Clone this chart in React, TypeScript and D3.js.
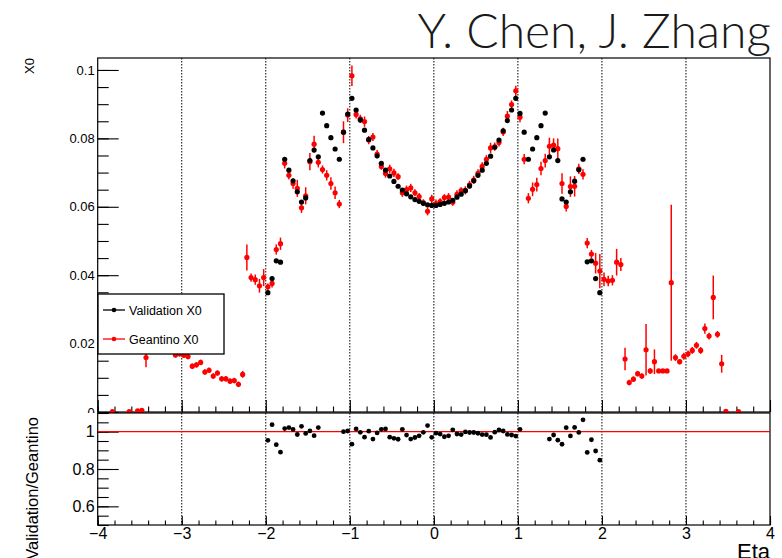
import React, { useEffect, useRef } from "react";
import * as d3 from "d3";

// eta bin centres, 0.05 wide, from -4 to 4
const etaBins: number[] = d3.range(160).map((i) => -3.975 + 0.05 * i);

const geantinoX0: (number | null)[] = [
  null, null, null, 0.0001, null, null, null, 0.0001, null, 0.0003,
  0.0005, 0.0159, null, null, null, null, null, null, 0.0167, 0.0170,
  0.0166, 0.0162, 0.0134, 0.0138, 0.0145, 0.0117, 0.0122, 0.0105, 0.0114, 0.0097,
  0.0097, 0.0090, 0.0092, 0.0081, 0.0110, 0.0452, 0.0393, 0.0387, 0.0369, 0.0393,
  0.0366, 0.0376, 0.0475, 0.0492, 0.0727, 0.0692, 0.0668, 0.0654, 0.0597, 0.0632,
  0.0732, 0.0783, 0.0730, 0.0709, 0.0692, 0.0668, 0.0641, 0.0608, 0.0818, 0.0868,
  0.0983, 0.0870, 0.0857, 0.0849, 0.0795, 0.0804, 0.0754, 0.0718, 0.0697, 0.0711,
  0.0699, 0.0688, 0.0641, 0.0650, 0.0655, 0.0641, 0.0630, 0.0612, 0.0587, 0.0623,
  0.0609, 0.0615, 0.0627, 0.0628, 0.0613, 0.0636, 0.0647, 0.0648, 0.0664, 0.0679,
  0.0698, 0.0718, 0.0739, 0.0772, 0.0776, 0.0788, 0.0819, 0.0865, 0.0899, 0.0939,
  0.0862, 0.0739, 0.0625, 0.0651, 0.0665, 0.0712, 0.0735, 0.0777, 0.0780, 0.0770,
  0.0668, 0.0601, 0.0659, 0.0660, 0.0711, 0.0695, 0.0494, 0.0462, 0.0435, 0.0412,
  0.0388, 0.0383, 0.0385, 0.0438, 0.0431, 0.0155, 0.0086, 0.0096, 0.0112, 0.0105,
  0.0182, 0.0120, 0.0147, 0.0120, 0.0120, 0.0120, 0.0378, 0.0159, 0.0147, 0.0163,
  0.0170, 0.0180, 0.0195, 0.0180, 0.0244, 0.0222, 0.0335, 0.0227, 0.0141, 0.0002,
  null, null, 0.0001, null, null, null, null, null, null, null,
];

const geantinoErr: number[] = [
  0, 0, 0, 0.0003, 0, 0, 0, 0.0003, 0, 0.0003,
  0.0003, 0.0028, 0, 0, 0, 0, 0, 0, 0.0008, 0.0008,
  0.0008, 0.0008, 0.0008, 0.0008, 0.0008, 0.0008, 0.0008, 0.0008, 0.0008, 0.0008,
  0.0008, 0.0008, 0.0008, 0.0008, 0.0010, 0.0038, 0.0012, 0.0015, 0.0020, 0.0025,
  0.0010, 0.0012, 0.0015, 0.0018, 0.0015, 0.0012, 0.0015, 0.0025, 0.0015, 0.0025,
  0.0025, 0.0025, 0.0015, 0.0012, 0.0015, 0.0018, 0.0018, 0.0012, 0.0032, 0.0020,
  0.0030, 0.0012, 0.0012, 0.0015, 0.0012, 0.0012, 0.0012, 0.0010, 0.0012, 0.0012,
  0.0012, 0.0010, 0.0012, 0.0012, 0.0012, 0.0010, 0.0010, 0.0010, 0.0012, 0.0012,
  0.0012, 0.0010, 0.0010, 0.0012, 0.0010, 0.0012, 0.0010, 0.0012, 0.0012, 0.0012,
  0.0012, 0.0012, 0.0012, 0.0015, 0.0012, 0.0012, 0.0012, 0.0015, 0.0012, 0.0015,
  0.0015, 0.0015, 0.0015, 0.0020, 0.0020, 0.0020, 0.0020, 0.0025, 0.0020, 0.0030,
  0.0030, 0.0015, 0.0030, 0.0030, 0.0015, 0.0015, 0.0015, 0.0012, 0.0030, 0.0050,
  0.0020, 0.0015, 0.0015, 0.0039, 0.0019, 0.0033, 0.0008, 0.0008, 0.0008, 0.0008,
  0.0075, 0.0008, 0.0036, 0.0005, 0.0005, 0.0005, 0.0228, 0.0010, 0.0008, 0.0010,
  0.0010, 0.0010, 0.0010, 0.0010, 0.0015, 0.0010, 0.0064, 0.0010, 0.0026, 0.0003,
  0, 0, 0.0003, 0, 0, 0, 0, 0, 0, 0,
];

const validationX0: (number | null)[] = [
  null, null, null, null, null, null, null, null, null, null,
  null, null, null, null, null, null, null, null, null, null,
  null, null, null, null, null, null, null, null, null, null,
  null, null, null, null, null, null, null, null, null, null,
  0.0349, 0.0390, 0.0442, 0.0438, 0.0739, 0.0707, 0.0676, 0.0644, 0.0614, 0.0626,
  0.0735, 0.0766, 0.0746, 0.0874, 0.0837, 0.0802, 0.0769, 0.0739, 0.0818, 0.0871,
  0.0917, 0.0883, 0.0854, 0.0824, 0.0797, 0.0772, 0.0749, 0.0727, 0.0707, 0.0690,
  0.0674, 0.0660, 0.0649, 0.0638, 0.0629, 0.0621, 0.0616, 0.0610, 0.0606, 0.0604,
  0.0604, 0.0607, 0.0610, 0.0614, 0.0619, 0.0628, 0.0637, 0.0647, 0.0661, 0.0676,
  0.0692, 0.0707, 0.0727, 0.0748, 0.0774, 0.0795, 0.0822, 0.0852, 0.0883, 0.0917,
  0.0873, 0.0818, 0.0739, 0.0769, 0.0802, 0.0837, 0.0874, 0.0746, 0.0766, 0.0735,
  0.0623, 0.0614, 0.0644, 0.0675, 0.0708, 0.0739, 0.0439, 0.0442, 0.0390, 0.0349,
  null, null, null, null, null, null, null, null, null, null,
  null, null, null, null, null, null, null, null, null, null,
  null, null, null, null, null, null, null, null, null, null,
  null, null, null, null, null, null, null, null, null, null,
];

const xMajor = [-4, -3, -2, -1, 0, 1, 2, 3, 4];
const gridEta = [-3, -2, -1, 0, 1, 2, 3];
const yUpMajor = [0, 0.02, 0.04, 0.06, 0.08, 0.1];
const yLoMajor = [0.6, 0.8, 1.0];

const W = 782;
const H = 558;
const X0 = 97.7;
const X1 = 770;
const UP_TOP = 58;
const UP_BOT = 412;
const LO_TOP = 413;
const LO_BOT = 525;
const FONT = "'Liberation Sans', Arial, Helvetica, sans-serif";

const App = () => {
  const ref = useRef<SVGSVGElement>(null);

  useEffect(() => {
    const svg = d3.select(ref.current);
    svg.selectAll("*").remove();

    const x = d3.scaleLinear().domain([-4, 4]).range([X0, X1]);
    const yUp = d3.scaleLinear().domain([0, 0.1035]).range([UP_BOT, UP_TOP]);
    const yLo = d3.scaleLinear().domain([0.5, 1.1]).range([LO_BOT, LO_TOP]);
    const xMinor = d3.range(-4, 4.001, 0.2);

    svg.append("rect").attr("width", W).attr("height", H).attr("fill", "white");

    // ---- upper pad ----
    const up = svg.append("g");
    up.selectAll(".grid")
      .data(gridEta)
      .enter()
      .append("line")
      .attr("x1", (d) => x(d))
      .attr("x2", (d) => x(d))
      .attr("y1", UP_TOP)
      .attr("y2", UP_BOT)
      .attr("stroke", "#000")
      .attr("stroke-width", 1)
      .attr("stroke-dasharray", "1.5,1.5");

    const axUpMinor = up.append("g").attr("transform", `translate(${X0},0)`)
      .call(d3.axisLeft(yUp).tickValues(d3.range(0, 0.1035, 0.005)).tickSizeInner(-11).tickSizeOuter(0).tickFormat(() => ""));
    const axUp = up.append("g").attr("transform", `translate(${X0},0)`)
      .call(d3.axisLeft(yUp).tickValues(yUpMajor).tickSizeInner(-21).tickSizeOuter(0).tickPadding(3)
        .tickFormat((d) => (d === 0 ? "0" : d3.format(".2~f")(d as number))));
    axUp.selectAll("text").attr("font-family", FONT).attr("font-size", 13).attr("fill", "#000");

    const axUpXMinor = up.append("g").attr("transform", `translate(0,${UP_BOT})`)
      .call(d3.axisBottom(x).tickValues(xMinor).tickSizeInner(-5.5).tickSizeOuter(0).tickFormat(() => ""));
    const axUpX = up.append("g").attr("transform", `translate(0,${UP_BOT})`)
      .call(d3.axisBottom(x).tickValues(xMajor).tickSizeInner(-12).tickSizeOuter(0).tickFormat(() => ""));
    [axUpMinor, axUp, axUpXMinor, axUpX].forEach((g) => {
      g.select(".domain").remove();
      g.selectAll("line").attr("stroke", "#000").attr("stroke-width", 1.1);
    });

    up.append("rect")
      .attr("x", X0).attr("y", UP_TOP)
      .attr("width", X1 - X0).attr("height", UP_BOT - UP_TOP)
      .attr("fill", "none").attr("stroke", "#000").attr("stroke-width", 1.2);

    // geantino error bars + markers
    const gean = etaBins
      .map((eta, i) => ({ eta, v: geantinoX0[i], e: geantinoErr[i] }))
      .filter((d) => d.v !== null) as { eta: number; v: number; e: number }[];
    up.selectAll(".gerr")
      .data(gean)
      .enter()
      .append("line")
      .attr("x1", (d) => x(d.eta))
      .attr("x2", (d) => x(d.eta))
      .attr("y1", (d) => yUp(Math.max(0, d.v - d.e)))
      .attr("y2", (d) => yUp(d.v + d.e))
      .attr("stroke", "#ff0000")
      .attr("stroke-width", 1.5);
    up.selectAll(".gpt")
      .data(gean)
      .enter()
      .append("circle")
      .attr("cx", (d) => x(d.eta))
      .attr("cy", (d) => yUp(d.v))
      .attr("r", 2.6)
      .attr("fill", "#ff0000");

    const valid = etaBins
      .map((eta, i) => ({ eta, v: validationX0[i] }))
      .filter((d) => d.v !== null) as { eta: number; v: number }[];
    up.selectAll(".vpt")
      .data(valid)
      .enter()
      .append("circle")
      .attr("cx", (d) => x(d.eta))
      .attr("cy", (d) => yUp(d.v))
      .attr("r", 2.6)
      .attr("fill", "#000");

    // legend
    const lg = up.append("g");
    lg.append("rect")
      .attr("x", 98).attr("y", 294).attr("width", 126).attr("height", 60)
      .attr("fill", "white").attr("stroke", "#000").attr("stroke-width", 1.3);
    const entries = [
      { label: "Validation X0", color: "#000", y: 310 },
      { label: "Geantino X0", color: "#ff0000", y: 339 },
    ];
    entries.forEach((en) => {
      lg.append("line").attr("x1", 103).attr("x2", 125).attr("y1", en.y).attr("y2", en.y)
        .attr("stroke", en.color).attr("stroke-width", 1.3);
      lg.append("circle").attr("cx", 114).attr("cy", en.y).attr("r", 2.3).attr("fill", en.color);
      lg.append("text").attr("x", 129).attr("y", en.y + 4.5)
        .attr("font-family", FONT).attr("font-size", 12.5).attr("fill", "#000").text(en.label);
    });

    up.append("text")
      .attr("transform", `translate(34,${UP_TOP}) rotate(-90)`)
      .attr("text-anchor", "end")
      .attr("font-family", FONT).attr("font-size", 13).attr("fill", "#000")
      .text("X0");

    up.append("text")
      .attr("x", 771).attr("y", 48)
      .attr("text-anchor", "end")
      .attr("font-family", "Lato, 'Open Sans', sans-serif")
      .attr("font-weight", 300)
      .attr("font-size", 48).attr("fill", "#1a1a1a")
      .text("Y. Chen, J. Zhang");

    // ---- lower pad ----
    const lo = svg.append("g");
    lo.append("rect").attr("x", 0).attr("y", LO_TOP).attr("width", W).attr("height", H - LO_TOP).attr("fill", "white");

    lo.selectAll(".grid")
      .data(gridEta)
      .enter()
      .append("line")
      .attr("x1", (d) => x(d))
      .attr("x2", (d) => x(d))
      .attr("y1", LO_TOP)
      .attr("y2", LO_BOT)
      .attr("stroke", "#000")
      .attr("stroke-width", 1)
      .attr("stroke-dasharray", "1.5,1.5");

    const axLoMinor = lo.append("g").attr("transform", `translate(${X0},0)`)
      .call(d3.axisLeft(yLo).tickValues(d3.range(0.5, 1.1001, 0.05)).tickSizeInner(-11).tickSizeOuter(0).tickFormat(() => ""));
    const axLo = lo.append("g").attr("transform", `translate(${X0},0)`)
      .call(d3.axisLeft(yLo).tickValues(yLoMajor).tickSizeInner(-21).tickSizeOuter(0).tickPadding(3)
        .tickFormat((d) => ((d as number) === 1 ? "1" : (d as number).toFixed(1))));
    axLo.selectAll("text").attr("font-family", FONT).attr("font-size", 16).attr("fill", "#000");

    const axLoXMinor = lo.append("g").attr("transform", `translate(0,${LO_BOT})`)
      .call(d3.axisBottom(x).tickValues(xMinor).tickSizeInner(-4.5).tickSizeOuter(0).tickFormat(() => ""));
    const axLoX = lo.append("g").attr("transform", `translate(0,${LO_BOT})`)
      .call(d3.axisBottom(x).tickValues(xMajor).tickSizeInner(-9).tickSizeOuter(0).tickPadding(3)
        .tickFormat((d) => ((d as number) < 0 ? "\u2212" + Math.abs(d as number) : String(d))));
    axLoX.selectAll("text").attr("font-family", FONT).attr("font-size", 16).attr("fill", "#000");
    [axLoMinor, axLo, axLoXMinor, axLoX].forEach((g) => {
      g.select(".domain").remove();
      g.selectAll("line").attr("stroke", "#000").attr("stroke-width", 1.1);
    });

    lo.append("rect")
      .attr("x", X0).attr("y", LO_TOP)
      .attr("width", X1 - X0).attr("height", LO_BOT - LO_TOP)
      .attr("fill", "none").attr("stroke", "#000").attr("stroke-width", 1.2);

    lo.append("line")
      .attr("x1", X0).attr("x2", X1)
      .attr("y1", yLo(1)).attr("y2", yLo(1))
      .attr("stroke", "#ff0000").attr("stroke-width", 1.3);

    const ratio = etaBins
      .map((eta, i) => {
        const v = validationX0[i];
        const g = geantinoX0[i];
        return { eta, r: v !== null && g !== null && g > 0 ? v / g : null };
      })
      .filter((d) => d.r !== null && d.r >= 0.5 && d.r <= 1.1) as { eta: number; r: number }[];
    lo.selectAll(".rpt")
      .data(ratio)
      .enter()
      .append("circle")
      .attr("cx", (d) => x(d.eta))
      .attr("cy", (d) => yLo(d.r))
      .attr("r", 2.4)
      .attr("fill", "#000");

    lo.append("text")
      .attr("transform", `translate(38,417) rotate(-90)`)
      .attr("text-anchor", "end")
      .attr("font-family", FONT).attr("font-size", 16.5).attr("fill", "#000")
      .text("Validation/Geantino");

    lo.append("text")
      .attr("x", 770).attr("y", 559)
      .attr("text-anchor", "end")
      .attr("font-family", FONT).attr("font-size", 22).attr("fill", "#000")
      .text("Eta");
  }, []);

  return (
    <svg
      ref={ref}
      width={W}
      height={H}
      style={{ position: "absolute", left: 0, top: 0, display: "block" }}
    ></svg>
  );
};

export default App;
